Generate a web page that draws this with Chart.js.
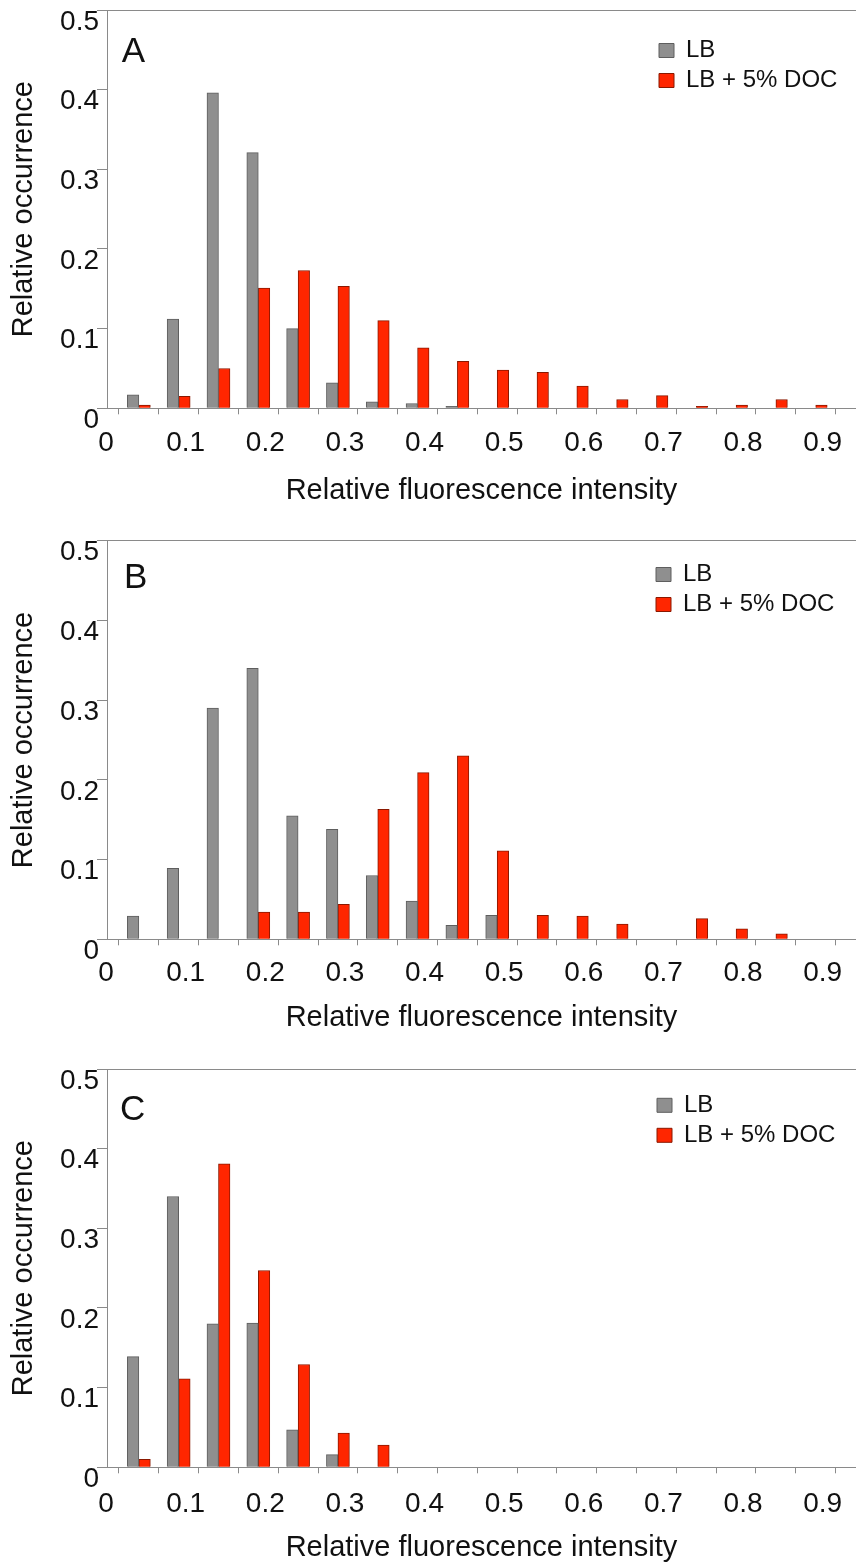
<!DOCTYPE html>
<html><head><meta charset="utf-8">
<script src="https://cdn.jsdelivr.net/npm/chart.js@4.4.1/dist/chart.umd.min.js"></script>
<style>
html,body{margin:0;padding:0;background:#fff;}
#wrap{position:relative;width:856px;height:1562px;overflow:hidden;background:#fff;}
.panel{position:absolute;left:0;width:856px;}
</style></head><body>
<div id="wrap">
  <div class="panel" style="top:0px;height:515px"><canvas id="cA"></canvas></div>
  <div class="panel" style="top:530px;height:515px"><canvas id="cB"></canvas></div>
  <div class="panel" style="top:1059px;height:503px"><canvas id="cC"></canvas></div>
</div>
<script>
// ---- data ----
const bins = [0.05,0.10,0.15,0.20,0.25,0.30,0.35,0.40,0.45,0.50,0.55,0.60,0.65,0.70,0.75,0.80,0.85,0.90];
const seriesNames = ['LB', 'LB + 5% DOC'];
const panelLetters = ['A', 'B', 'C'];

const lbA  = [0.017,0.112,0.396,0.321,0.100,0.032,0.008,0.006,0.0025,0,0,0,0,0,0,0,0,0];
const docA = [0.004,0.015,0.050,0.151,0.173,0.153,0.110,0.076,0.059,0.048,0.045,0.028,0.011,0.016,0.0025,0.004,0.011,0.004];

const lbB  = [0.029,0.089,0.290,0.340,0.155,0.138,0.080,0.048,0.0175,0.030,0,0,0,0,0,0,0,0];
const docB = [0,0,0,0.034,0.034,0.044,0.163,0.209,0.230,0.111,0.030,0.029,0.019,0,0.026,0.013,0.007,0];

const lbC  = [0.139,0.340,0.180,0.181,0.047,0.016,0,0,0,0,0,0,0,0,0,0,0,0];
const docC = [0.010,0.111,0.381,0.247,0.129,0.043,0.028,0,0,0,0,0,0,0,0,0,0,0];

const xTickValues = [0,0.05,0.10,0.15,0.20,0.25,0.30,0.35,0.40,0.45,0.50,0.55,0.60,0.65,0.70,0.75,0.80,0.85,0.90,0.95];
const xTickLabels = ['0','','0.1','','0.2','','0.3','','0.4','','0.5','','0.6','','0.7','','0.8','','0.9',''];
const yTickValues = [0,0.1,0.2,0.3,0.4,0.5];
const yTickLabels = ['0','0.1','0.2','0.3','0.4','0.5'];

const xTitle = 'Relative fluorescence intensity';
const yTitle = 'Relative occurrence';

// ---- style ----
const FONT = '"Liberation Sans", Arial, Helvetica, sans-serif';
const AXIS = '#8a8a8a';
const TXT = '#111111';
const GRAY_FILL = '#8f8f8f', GRAY_EDGE = '#5e5e5e';
const RED_FILL = '#ff2600', RED_EDGE = '#8a1800';

Chart.defaults.font.family = FONT;

const panelDecor = {
  id: 'panelDecor',
  afterLayout(chart, args, opts) {
    const lg = chart.legend, ca = chart.chartArea;
    if (lg) {
      const pad = lg.options.labels.padding;
      const w = lg.width, h = lg.height;
      lg.left = opts.legendX - pad;
      lg.top = ca.top + opts.legendDy - pad;
      lg.right = lg.left + w;
      lg.bottom = lg.top + h;
    }
  },
  afterDraw(chart, args, opts) {
    const ctx = chart.ctx, ca = chart.chartArea;
    ctx.save();
    ctx.font = '35px ' + FONT;
    ctx.fillStyle = TXT;
    ctx.textAlign = 'left';
    ctx.textBaseline = 'alphabetic';
    ctx.fillText(opts.letter, ca.left + opts.letterDx, ca.top + opts.letterDy);
    ctx.restore();
  }
};

function makePanel(id, letter, lb, doc, P) {
  new Chart(document.getElementById(id), {
    type: 'bar',
    data: {
      labels: bins,
      datasets: [
        {label: seriesNames[0], data: lb, backgroundColor: GRAY_FILL, borderColor: GRAY_EDGE, borderWidth: 1},
        {label: seriesNames[1], data: doc, backgroundColor: RED_FILL, borderColor: RED_EDGE, borderWidth: 1}
      ]
    },
    options: {
      responsive: true,
      maintainAspectRatio: false,
      animation: false,
      events: [],
      barThickness: 11.5,
      layout: {padding: {top: P.padTop, left: 0, right: 0, bottom: 0}},
      plugins: {
        tooltip: {enabled: false},
        legend: {
          display: true,
          position: 'chartArea',
          align: 'start',
          labels: {boxWidth: 15, boxHeight: 14, padding: 6, color: TXT, font: {size: 24, family: FONT, lineHeight: 1}}
        },
        panelDecor: {letter: letter, letterDx: P.letterDx, letterDy: P.letterDy, legendX: P.legendX, legendDy: P.legendDy}
      },
      scales: {
        x: {
          type: 'linear',
          min: 0.01,
          max: 0.9506,
          offset: false,
          afterBuildTicks: ax => { ax.ticks = xTickValues.map(v => ({value: v})); },
          afterFit: ax => { ax.height = P.xh; ax.paddingLeft = 0; ax.paddingRight = 0; },
          grid: {drawOnChartArea: false, drawTicks: true, tickLength: 6, color: AXIS, tickColor: AXIS},
          border: {display: true, color: AXIS, width: 1},
          ticks: {autoSkip: false, maxRotation: 0, minRotation: 0, padding: P.xLabPad, labelOffset: 7, color: TXT,
                  font: {size: 28, family: FONT, lineHeight: 1}, callback: (v, i) => xTickLabels[i]},
          title: {display: true, text: xTitle, color: TXT, font: {size: 29, family: FONT, lineHeight: 1},
                  padding: {top: 0, bottom: P.xTitlePad}}
        },
        y: {
          type: 'linear',
          min: 0,
          max: 0.5,
          afterBuildTicks: ax => { ax.ticks = yTickValues.map(v => ({value: v})); },
          afterFit: ax => { ax.width = 107; ax.paddingTop = 0; ax.paddingBottom = 0; },
          grid: {drawOnChartArea: true, drawTicks: true, tickLength: 10,
                 color: c => (c.tick && Math.abs(c.tick.value - 0.5) < 1e-9) ? AXIS : 'rgba(0,0,0,0)',
                 tickColor: AXIS},
          border: {display: true, color: AXIS, width: 1},
          ticks: {padding: -2, labelOffset: 12, color: TXT, font: {size: 28, family: FONT, lineHeight: 1},
                  callback: (v, i) => yTickLabels[i]},
          title: {display: true, text: yTitle, color: TXT, font: {size: 29, family: FONT, lineHeight: 1},
                  padding: {top: 9, bottom: 0}}
        }
      }
    },
    plugins: [panelDecor]
  });
}

makePanel('cA', panelLetters[0], lbA, docA,
  {padTop: 10, xh: 106.7, xLabPad: 14.7, xTitlePad: 10, letterDx: 14.7, letterDy: 51.7, legendX: 659, legendDy: 28.5});
makePanel('cB', panelLetters[1], lbB, docB,
  {padTop: 10.7, xh: 105.7, xLabPad: 13.7, xTitlePad: 13, letterDx: 17, letterDy: 47.6, legendX: 656, legendDy: 21.8});
makePanel('cC', panelLetters[2], lbC, docC,
  {padTop: 10, xh: 94.7, xLabPad: 16.7, xTitlePad: 0, letterDx: 13, letterDy: 51, legendX: 657, legendDy: 24.3});
</script>
</body></html>
